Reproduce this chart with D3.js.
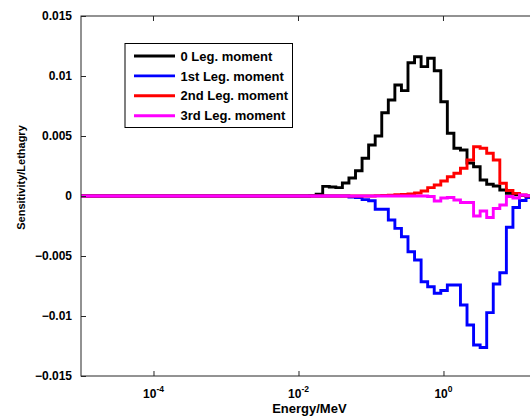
<!DOCTYPE html>
<html>
<head>
<meta charset="utf-8">
<script src="https://cdn.jsdelivr.net/npm/d3@7"></script>
<style>
  body { margin: 0; background: #fff; }
  text { font-family: Arial, "Liberation Sans", sans-serif; font-weight: bold; fill: #000; }
</style>
</head>
<body>
<script>
// group boundaries (MeV), first bin is the flat low-energy part
var edges = [1e-5, 0.01155, 0.01423, 0.01752, 0.02158, 0.02658, 0.03274, 0.04032, 0.04966, 0.06116,
  0.07534, 0.09279, 0.1143, 0.1408, 0.1734, 0.2135, 0.2630, 0.3239, 0.3990, 0.4914, 0.6052,
  0.7454, 0.9179, 1.1305, 1.392, 1.715, 2.112, 2.601, 3.204, 3.946, 4.860, 5.985, 7.372,
  9.080, 11.18, 13.77, 16.96, 20.89];

var leg0 = [0, 0, 0.00003, 0.00015, 0.0008, 0.00075, 0.0007, 0.00108, 0.0015, 0.0021,
  0.00314, 0.00425, 0.0050, 0.00694, 0.0080, 0.00925, 0.00878, 0.01111, 0.01161, 0.01078, 0.01148,
  0.01044, 0.00786, 0.00523, 0.00398, 0.00383, 0.00275, 0.00244, 0.00133, 0.00098, 0.00083,
  0.0005, 0.00022, 0.0001, 0.00005, 0, 0];

var leg1 = [0, 0, 0, 0, 0, 0, 0, 0, -0.00008, -0.00013,
  -0.0003, -0.0004, -0.0011, -0.0011, -0.002, -0.0027, -0.0034, -0.00464, -0.00533, -0.00714, -0.00756,
  -0.0081, -0.00788, -0.00742, -0.00742, -0.00908, -0.01075, -0.01242, -0.01263, -0.00972, -0.00733,
  -0.0064, -0.0026, -0.00096, -0.00038, -0.00013, 0];

var leg2 = [0, 0, 0, 0, 0, 0, 0, 0, 0, 0,
  0, 0, 0.00003, 0.00005, 0.00007, 0.0001, 0.00012, 0.00017, 0.00025, 0.00042, 0.0007,
  0.00092, 0.00125, 0.00161, 0.00189, 0.00231, 0.003, 0.00411, 0.00398, 0.00356, 0.003,
  0.00106, 0.00046, 0.00022, 0.00008, 0, 0];

var leg3 = [0, 0, 0, 0, 0, 0, 0, 0, 0, 0,
  0, 0, 0, 0, 0, 0, 0, 0, 0, 0, -0.00004,
  -0.00042, -0.00017, -0.00012, -0.00033, -0.00054, -0.00054, -0.00167, -0.00125, -0.00179, -0.00104,
  -0.00075, -0.00004, -0.00017, 0.00008, 0.00003, 0];

var seriesNames = ["0 Leg. moment", "1st Leg. moment", "2nd Leg. moment", "3rd Leg. moment"];
var seriesColors = ["#000000", "#0000ff", "#ff0000", "#ff00ff"];
var xTicks = [1e-4, 1e-2, 1e0];
var yTicks = [-0.015, -0.01, -0.005, 0, 0.005, 0.01, 0.015];

var W = 530, H = 418;
var marges = { top: 16, left: 81, bottom: 376, right: 537.8 };

var svg = d3.select("body").append("svg")
  .attr("width", W)
  .attr("height", H);

svg.append("rect").attr("width", W).attr("height", H).attr("fill", "#fff");

var x = d3.scaleLog().domain([1e-5, 20]).range([marges.left, marges.right]);
var y = d3.scaleLinear().domain([-0.015, 0.015]).range([marges.bottom, marges.top]);

var plot = svg.append("g");

// step curves
var line = d3.line()
  .x(function(d) { return x(d[0]); })
  .y(function(d) { return y(d[1]); })
  .curve(d3.curveStepAfter);

[leg0, leg1, leg2, leg3].forEach(function(vals, s) {
  var pts = vals.map(function(v, i) { return [edges[i], v]; });
  pts.push([edges[edges.length - 1], vals[vals.length - 1]]);
  plot.append("path")
    .datum(pts)
    .attr("fill", "none")
    .attr("stroke", seriesColors[s])
    .attr("stroke-width", 2.9)
    .attr("stroke-linejoin", "miter")
    .attr("d", line);
});

// axes box
svg.append("rect")
  .attr("x", marges.left).attr("y", marges.top)
  .attr("width", marges.right - marges.left)
  .attr("height", marges.bottom - marges.top)
  .attr("fill", "none").attr("stroke", "#262626").attr("stroke-width", 1);

var tl = 5;
// y ticks (inside, both sides)
var axeY = d3.axisLeft(y).tickValues(yTicks).tickSize(-tl).tickPadding(9)
  .tickFormat(function(d) { return d === 0 ? "0" : d3.format("")(+d.toFixed(3)); });
var gy = svg.append("g").attr("transform", "translate(" + marges.left + ",0)").call(axeY);
gy.select(".domain").remove();
gy.selectAll(".tick line").attr("stroke", "#262626");
gy.selectAll(".tick text").attr("font-size", 12).attr("font-family", "Arial, 'Liberation Sans', sans-serif")
  .attr("font-weight", "bold").attr("fill", "#000");

svg.append("g").selectAll("line").data(yTicks).enter().append("line")
  .attr("x1", marges.right).attr("x2", marges.right - tl)
  .attr("y1", function(d) { return y(d); }).attr("y2", function(d) { return y(d); })
  .attr("stroke", "#262626");

// x ticks
var axeX = d3.axisBottom(x).tickValues(xTicks).tickSize(-tl).tickFormat("");
var gx = svg.append("g").attr("transform", "translate(0," + marges.bottom + ")").call(axeX);
gx.select(".domain").remove();
gx.selectAll(".tick line").attr("stroke", "#262626");

svg.append("g").selectAll("line").data(xTicks).enter().append("line")
  .attr("x1", function(d) { return x(d); }).attr("x2", function(d) { return x(d); })
  .attr("y1", marges.top).attr("y2", marges.top + tl)
  .attr("stroke", "#262626");

var xl = svg.append("g").selectAll("text").data(xTicks).enter().append("text")
  .attr("x", function(d) { return x(d); })
  .attr("y", 398)
  .attr("text-anchor", "middle")
  .attr("font-size", 12);
xl.append("tspan").text("10");
xl.append("tspan").attr("dy", -6).attr("font-size", 8.5)
  .text(function(d) { return Math.round(Math.log10(d)); });

// axis titles
svg.append("text")
  .attr("x", (marges.left + marges.right) / 2).attr("y", 412.5)
  .attr("text-anchor", "middle").attr("font-size", 13)
  .text("Energy/MeV");

svg.append("text")
  .attr("transform", "translate(24.5,177.5) rotate(-90)")
  .attr("text-anchor", "middle").attr("font-size", 11)
  .text("Sensitivity/Lethagry");

// legend
var leg = svg.append("g");
leg.append("rect")
  .attr("x", 125).attr("y", 43.5).attr("width", 167.5).attr("height", 84)
  .attr("fill", "#fff").attr("stroke", "#000").attr("stroke-width", 1);

var rows = leg.selectAll("g.row").data(seriesNames).enter().append("g")
  .attr("transform", function(d, i) { return "translate(0," + (56 + i * 19.9) + ")"; });
rows.append("line")
  .attr("x1", 134).attr("x2", 175).attr("y1", 0).attr("y2", 0)
  .attr("stroke", function(d, i) { return seriesColors[i]; })
  .attr("stroke-width", 2.9);
rows.append("text")
  .attr("x", 180.5).attr("y", 4.6)
  .attr("font-size", 13)
  .text(function(d) { return d; });
</script>
</body>
</html>
